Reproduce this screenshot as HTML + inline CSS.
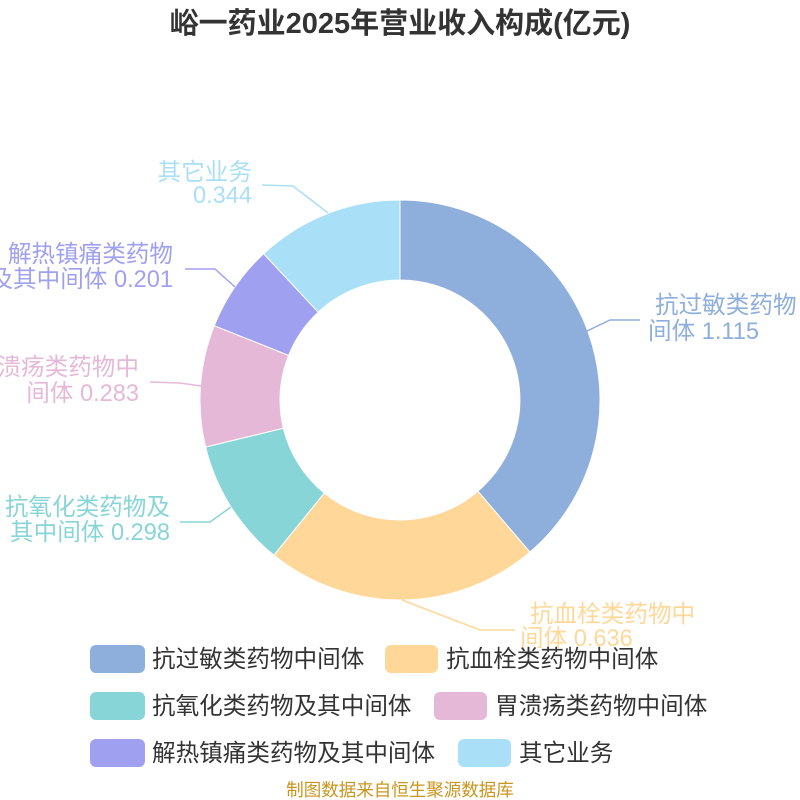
<!DOCTYPE html>
<html><head><meta charset="utf-8"><style>
body{margin:0;background:#fff}
svg{display:block;font-family:"Liberation Sans","Noto Sans CJK SC",sans-serif}
</style></head><body>
<svg width="800" height="800" viewBox="0 0 800 800">
<text x="400" y="33" text-anchor="middle" font-size="29" font-weight="bold" fill="#333">峪一药业2025年营业收入构成(亿元)</text>
<g stroke="#fff" stroke-width="1">
<path d="M400,200 A200,200 0 0 1 529.9,552.1 L477.9,491.2 A120,120 0 0 0 400,280 Z" fill="#8eaedb"/>
<path d="M529.9,552.1 A200,200 0 0 1 273.9,555.2 L324.3,493.1 A120,120 0 0 0 477.9,491.2 Z" fill="#ffd899"/>
<path d="M273.9,555.2 A200,200 0 0 1 205.6,447 L283.4,428.2 A120,120 0 0 0 324.3,493.1 Z" fill="#88d5d8"/>
<path d="M205.6,447 A200,200 0 0 1 214.3,325.7 L288.6,355.4 A120,120 0 0 0 283.4,428.2 Z" fill="#e6b8d8"/>
<path d="M214.3,325.7 A200,200 0 0 1 263.6,253.7 L318.2,312.2 A120,120 0 0 0 288.6,355.4 Z" fill="#a0a0f0"/>
<path d="M263.6,253.7 A200,200 0 0 1 400,200 L400,280 A120,120 0 0 0 318.2,312.2 Z" fill="#aadff8"/>
</g>
<g fill="none" stroke-width="1.5">
<polyline points="587,331 610,320 640,320" stroke="#8eaedb"/>
<polyline points="402,600 480,630 515,630" stroke="#ffd899"/>
<polyline points="231,507 210,522 180,522" stroke="#88d5d8"/>
<polyline points="201,386 180,383 150,382" stroke="#e6b8d8"/>
<polyline points="235,287 215,269 185,269" stroke="#a0a0f0"/>
<polyline points="328,213 293,186 262,185" stroke="#aadff8"/>
</g>
<g font-size="23.6">
<text fill="#8eaedb" text-anchor="start"><tspan x="655" y="313">抗过敏类药物</tspan><tspan x="648" y="339">间体 1.115</tspan></text>
<text fill="#ffd899" text-anchor="start"><tspan x="530" y="622">抗血栓类药物中</tspan><tspan x="520" y="646">间体 0.636</tspan></text>
<text fill="#88d5d8" text-anchor="end"><tspan x="170" y="515">抗氧化类药物及</tspan><tspan x="170" y="540">其中间体 0.298</tspan></text>
<text fill="#e6b8d8" text-anchor="end"><tspan x="139" y="375">胃溃疡类药物中</tspan><tspan x="139" y="401">间体 0.283</tspan></text>
<text fill="#a0a0f0" text-anchor="end"><tspan x="173" y="262">解热镇痛类药物</tspan><tspan x="173" y="287">及其中间体 0.201</tspan></text>
<text fill="#aadff8" text-anchor="end"><tspan x="252" y="180">其它业务</tspan><tspan x="252" y="203">0.344</tspan></text>
</g>
<g font-size="23.6" fill="#333">
<rect x="90" y="645" width="55" height="28" rx="6" fill="#8eaedb"/><text x="152" y="667">抗过敏类药物中间体</text>
<rect x="385" y="645" width="53" height="28" rx="6" fill="#ffd899"/><text x="446" y="667">抗血栓类药物中间体</text>
<rect x="90" y="692" width="55" height="28" rx="6" fill="#88d5d8"/><text x="152" y="714">抗氧化类药物及其中间体</text>
<rect x="434" y="692" width="53" height="28" rx="6" fill="#e6b8d8"/><text x="495" y="714">胃溃疡类药物中间体</text>
<rect x="90" y="739" width="55" height="28" rx="6" fill="#a0a0f0"/><text x="152" y="761">解热镇痛类药物及其中间体</text>
<rect x="458" y="739" width="53" height="28" rx="6" fill="#aadff8"/><text x="519" y="761">其它业务</text>
</g>
<text x="400" y="796" text-anchor="middle" font-size="17.5" fill="#c8961e">制图数据来自恒生聚源数据库</text>
</svg>
</body></html>
